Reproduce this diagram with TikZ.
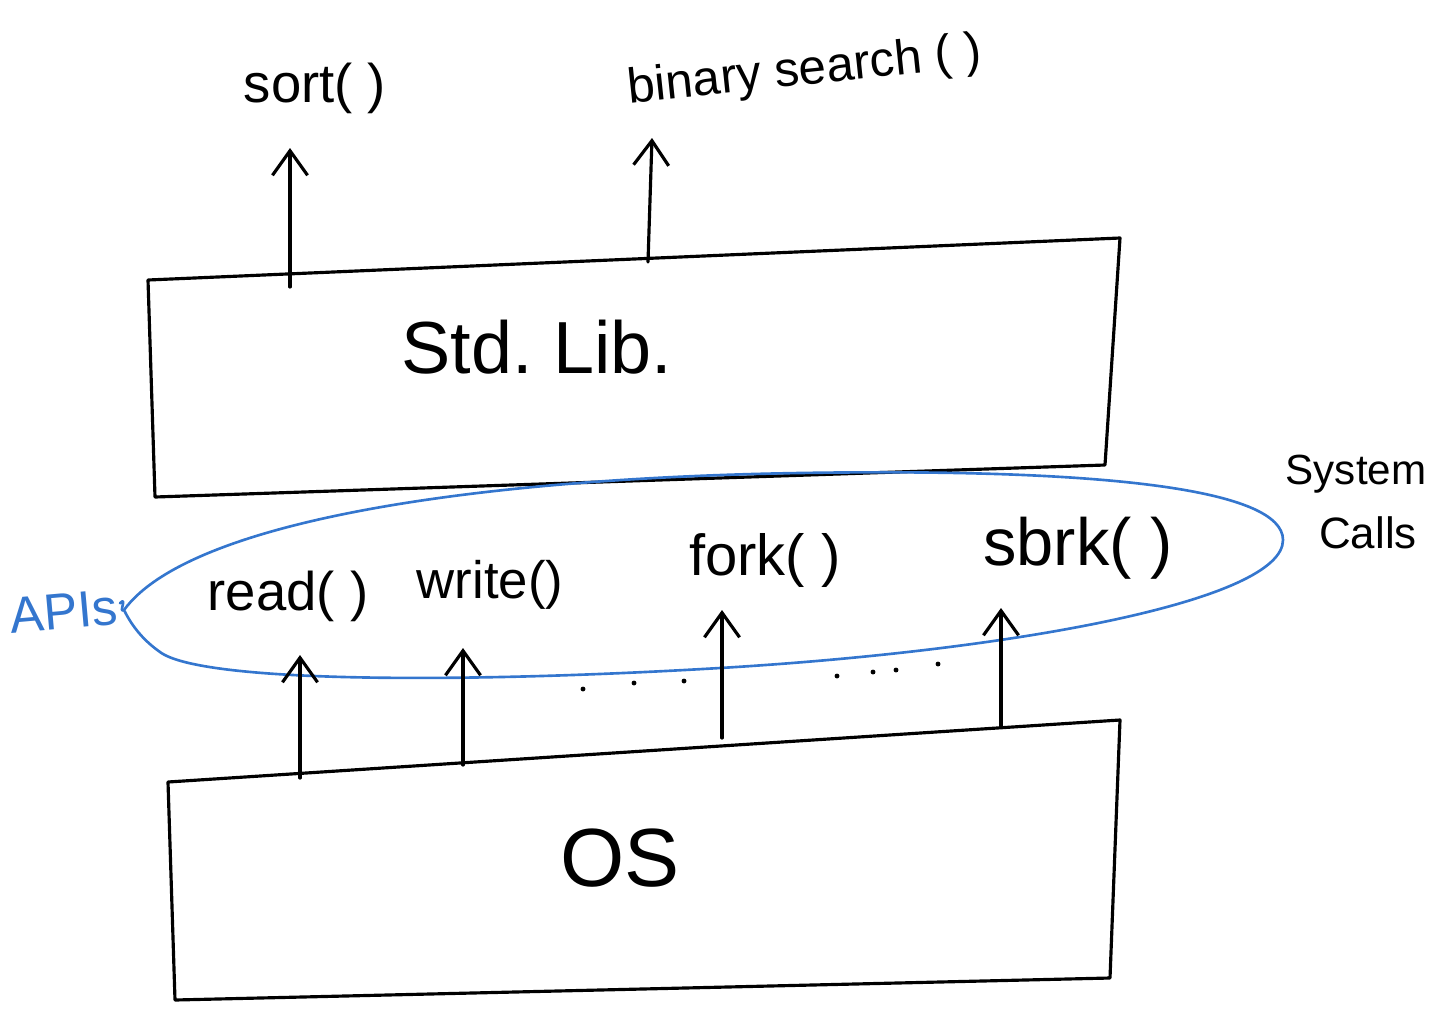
\documentclass[tikz,border=0pt]{standalone}
\usepackage{fontspec}
\setmainfont{Liberation Sans}
\usetikzlibrary{arrows.meta}
\definecolor{penblue}{RGB}{52,118,206}
\newcommand{\fs}[1]{\fontsize{#1}{#1}\selectfont}
\tikzset{
  pen/.style={line width=1.8pt, black, line join=round, line cap=round},
  bluepen/.style={line width=1.5pt, penblue, line join=round, line cap=round},
  uparrow/.style={pen, -{Straight Barb[length=14pt, width=20pt, line width=1.8pt]}},
  lbl/.style={inner sep=0pt, text=black},
  dot/.style={circle, fill=black, inner sep=0pt, minimum size=2.8pt}
}
\begin{document}
\begin{tikzpicture}[x=0.02cm, y=-0.02cm]
  \useasboundingbox (0,0) rectangle (1447,1008);

  % Standard library layer
  \coordinate (L1) at (148,280);
  \coordinate (L2) at (1120,238);
  \coordinate (L3) at (1105,465);
  \coordinate (L4) at (155,497);
  \draw[pen] (L1) -- (L2) -- (L3) -- (L4) -- cycle;
  \node[lbl, font=\fs{42}] (stdlib) at (537,347) {Std.\ Lib.};

  % Library functions exposed above
  \node[lbl, font=\fs{31}] (sort) at (315,88) {sort( )};
  \node[lbl, font=\fs{28}, rotate=6] (bsearch) at (805,72) {binary search ( )};
  \coordinate (sortfoot) at (290,287);
  \coordinate (sorttip) at (290,148);
  \coordinate (bsfoot) at (648,262);
  \coordinate (bstip) at (652,138);
  \draw[uparrow] (sortfoot) -- (sorttip);
  \draw[uparrow] (bsfoot) -- (bstip);

  % Operating system layer
  \coordinate (O1) at (168,782);
  \coordinate (O2) at (1120,720);
  \coordinate (O3) at (1110,978);
  \coordinate (O4) at (175,1000);
  \draw[pen] (O1) -- (O2) -- (O3) -- (O4) -- cycle;
  \node[lbl, font=\fs{47}] (os) at (620,858) {OS};

  % System call interface ring
  \coordinate (tip) at (124,610);
  \draw[bluepen] (tip)
    .. controls (190,520) and (480,478) .. (800,473)
    .. controls (1110,468) and (1283,490) .. (1283,540)
    .. controls (1283,600) and (1020,650) .. (720,668)
    .. controls (450,684) and (200,682) .. (160,652)
    .. controls (140,638) and (130,622) .. (tip);
  \node[lbl, text=penblue, font=\fs{29}, rotate=5] (apis) at (64,612) {APIs};
  \draw[bluepen] (apis.east) ++(2,-4) .. controls +(8,-8) and +(-6,4) .. (tip);

  \node[lbl, font=\fs{24}] (system) at (1356,474) {System};
  \node[lbl, font=\fs{25}] (calls) at (1368,533) {Calls};

  % Individual system calls
  \node[lbl, font=\fs{31}] (read) at (288,596) {read( )};
  \node[lbl, font=\fs{30}] (write) at (490,585) {write()};
  \node[lbl, font=\fs{33}] (fork) at (765,560) {fork( )};
  \node[lbl, font=\fs{38}] (sbrk) at (1078,548) {sbrk( )};

  \coordinate (rfoot) at (300,778);
  \coordinate (rtip) at (300,655);
  \coordinate (wfoot) at (463,765);
  \coordinate (wtip) at (463,648);
  \coordinate (ffoot) at (722,738);
  \coordinate (ftip) at (722,610);
  \coordinate (sfoot) at (1001,727);
  \coordinate (stip) at (1001,608);
  \draw[uparrow] (rfoot) -- (rtip);
  \draw[uparrow] (wfoot) -- (wtip);
  \draw[uparrow] (ffoot) -- (ftip);
  \draw[uparrow] (sfoot) -- (stip);

  % Further calls left out
  \node[dot] (d1) at (583,689) {};
  \node[dot] (d2) at (634,683) {};
  \node[dot] (d3) at (684,681) {};
  \node[dot] (d4) at (837,676) {};
  \node[dot] (d5) at (873,672) {};
  \node[dot] (d6) at (896,670) {};
  \node[dot] (d7) at (938,664) {};
\end{tikzpicture}
\end{document}
